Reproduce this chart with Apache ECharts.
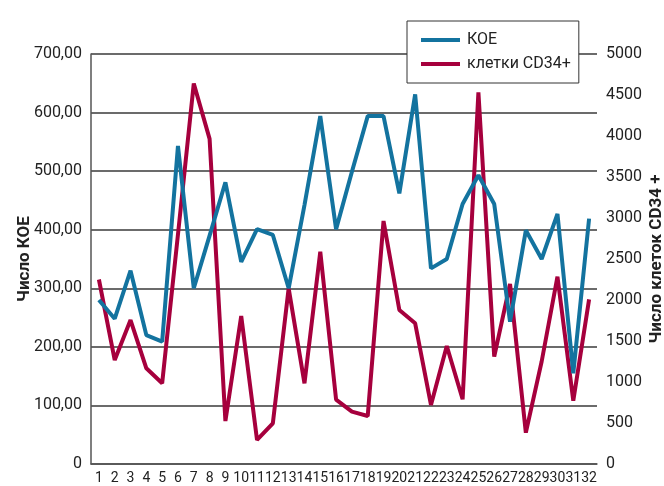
<!DOCTYPE html>
<html>
<head>
<meta charset="utf-8">
<script src="https://cdn.jsdelivr.net/npm/echarts@6/dist/echarts.min.js"></script>
<style>
  html, body { margin: 0; padding: 0; background: #fff; }
  #chart { width: 664px; height: 486px; }
</style>
</head>
<body>
<div id="chart"></div>
<script>
// Day numbers along the bottom axis
const days = ['1','2','3','4','5','6','7','8','9','10','11','12','13','14','15','16',
              '17','18','19','20','21','22','23','24','25','26','27','28','29','30','31','32'];

// Colony-forming units (left axis)
const koe = [280, 248, 330, 220, 209, 543, 300, 390, 481, 345, 401, 391, 300, 442, 594, 401,
             499, 594, 594, 462, 631, 334, 350, 444, 493, 444, 243, 399, 350, 427, 155, 419];

// CD34+ cell counts (right axis)
const cd34 = [2250, 1268, 1756, 1167, 984, 2800, 4640, 3965, 524, 1805, 293, 496, 2142, 984, 2589, 785,
              638, 585, 2963, 1878, 1716, 720, 1439, 789, 4533, 1309, 2195, 382, 1250, 2284, 772, 2008];

const seriesNames = ['КОЕ', 'клетки CD34+'];
const colors = ['#13739f', '#a6003d'];
const font = "Roboto, 'Liberation Sans', sans-serif";

const chart = echarts.init(document.getElementById('chart'), null, { renderer: 'canvas' });

const leftFmt = v => v === 0 ? '0' : v.toFixed(2).replace('.', ',');
const rightFmt = v => String(v);

chart.setOption({
  animation: false,
  backgroundColor: '#fff',
  textStyle: { fontFamily: font },
  grid: { left: 91, right: 67, top: 54, bottom: 22, containLabel: false, outerBoundsMode: 'none' },
  legend: {
    data: seriesNames,
    orient: 'vertical',
    left: 407,
    top: 21,
    padding: [10, 8, 10, 14],
    itemGap: 6,
    itemWidth: 39,
    itemHeight: 4,
    icon: 'rect',
    backgroundColor: '#fff',
    borderColor: '#333',
    borderWidth: 1,
    textStyle: { fontFamily: font, fontSize: 16, color: '#222', padding: [0, 0, 0, 2], lineHeight: 18 }
  },
  xAxis: {
    type: 'category',
    data: days,
    boundaryGap: true,
    axisLine: { lineStyle: { color: '#555', width: 1.5 } },
    axisTick: { show: false },
    axisLabel: { interval: 0, fontFamily: font, fontSize: 14, color: '#222', margin: 7 },
    splitLine: { show: false }
  },
  yAxis: [
    {
      type: 'value',
      min: 0, max: 700, interval: 100,
      position: 'left',
      name: 'Число КОЕ',
      nameLocation: 'middle',
      nameGap: 58,
      nameRotate: 90,
      nameMoveOverlap: false,
      nameTextStyle: { fontFamily: font, fontSize: 17, fontWeight: 'bold', color: '#222' },
      axisLine: { show: true, lineStyle: { color: '#555', width: 1.5 } },
      axisTick: { show: false },
      axisLabel: { formatter: leftFmt, fontFamily: font, fontSize: 16, color: '#222', margin: 9 },
      splitLine: { show: true, lineStyle: { color: '#3a3a3a', width: 1.5 } }
    },
    {
      type: 'value',
      min: 0, max: 5000, interval: 500,
      position: 'right',
      name: 'Число клеток CD34 +',
      nameLocation: 'middle',
      nameGap: 51,
      nameRotate: 90,
      nameMoveOverlap: false,
      nameTextStyle: { fontFamily: font, fontSize: 17, fontWeight: 'bold', color: '#222' },
      axisLine: { show: false },
      axisTick: { show: false },
      axisLabel: { formatter: rightFmt, fontFamily: font, fontSize: 16, color: '#222', margin: 9 },
      splitLine: { show: false }
    }
  ],
  series: [
    {
      name: seriesNames[0],
      type: 'line',
      yAxisIndex: 0,
      data: koe,
      symbol: 'none',
      lineStyle: { color: colors[0], width: 4 },
      itemStyle: { color: colors[0] },
      z: 3
    },
    {
      name: seriesNames[1],
      type: 'line',
      yAxisIndex: 1,
      data: cd34,
      symbol: 'none',
      lineStyle: { color: colors[1], width: 4 },
      itemStyle: { color: colors[1] },
      z: 2
    }
  ]
});
</script>
</body>
</html>
